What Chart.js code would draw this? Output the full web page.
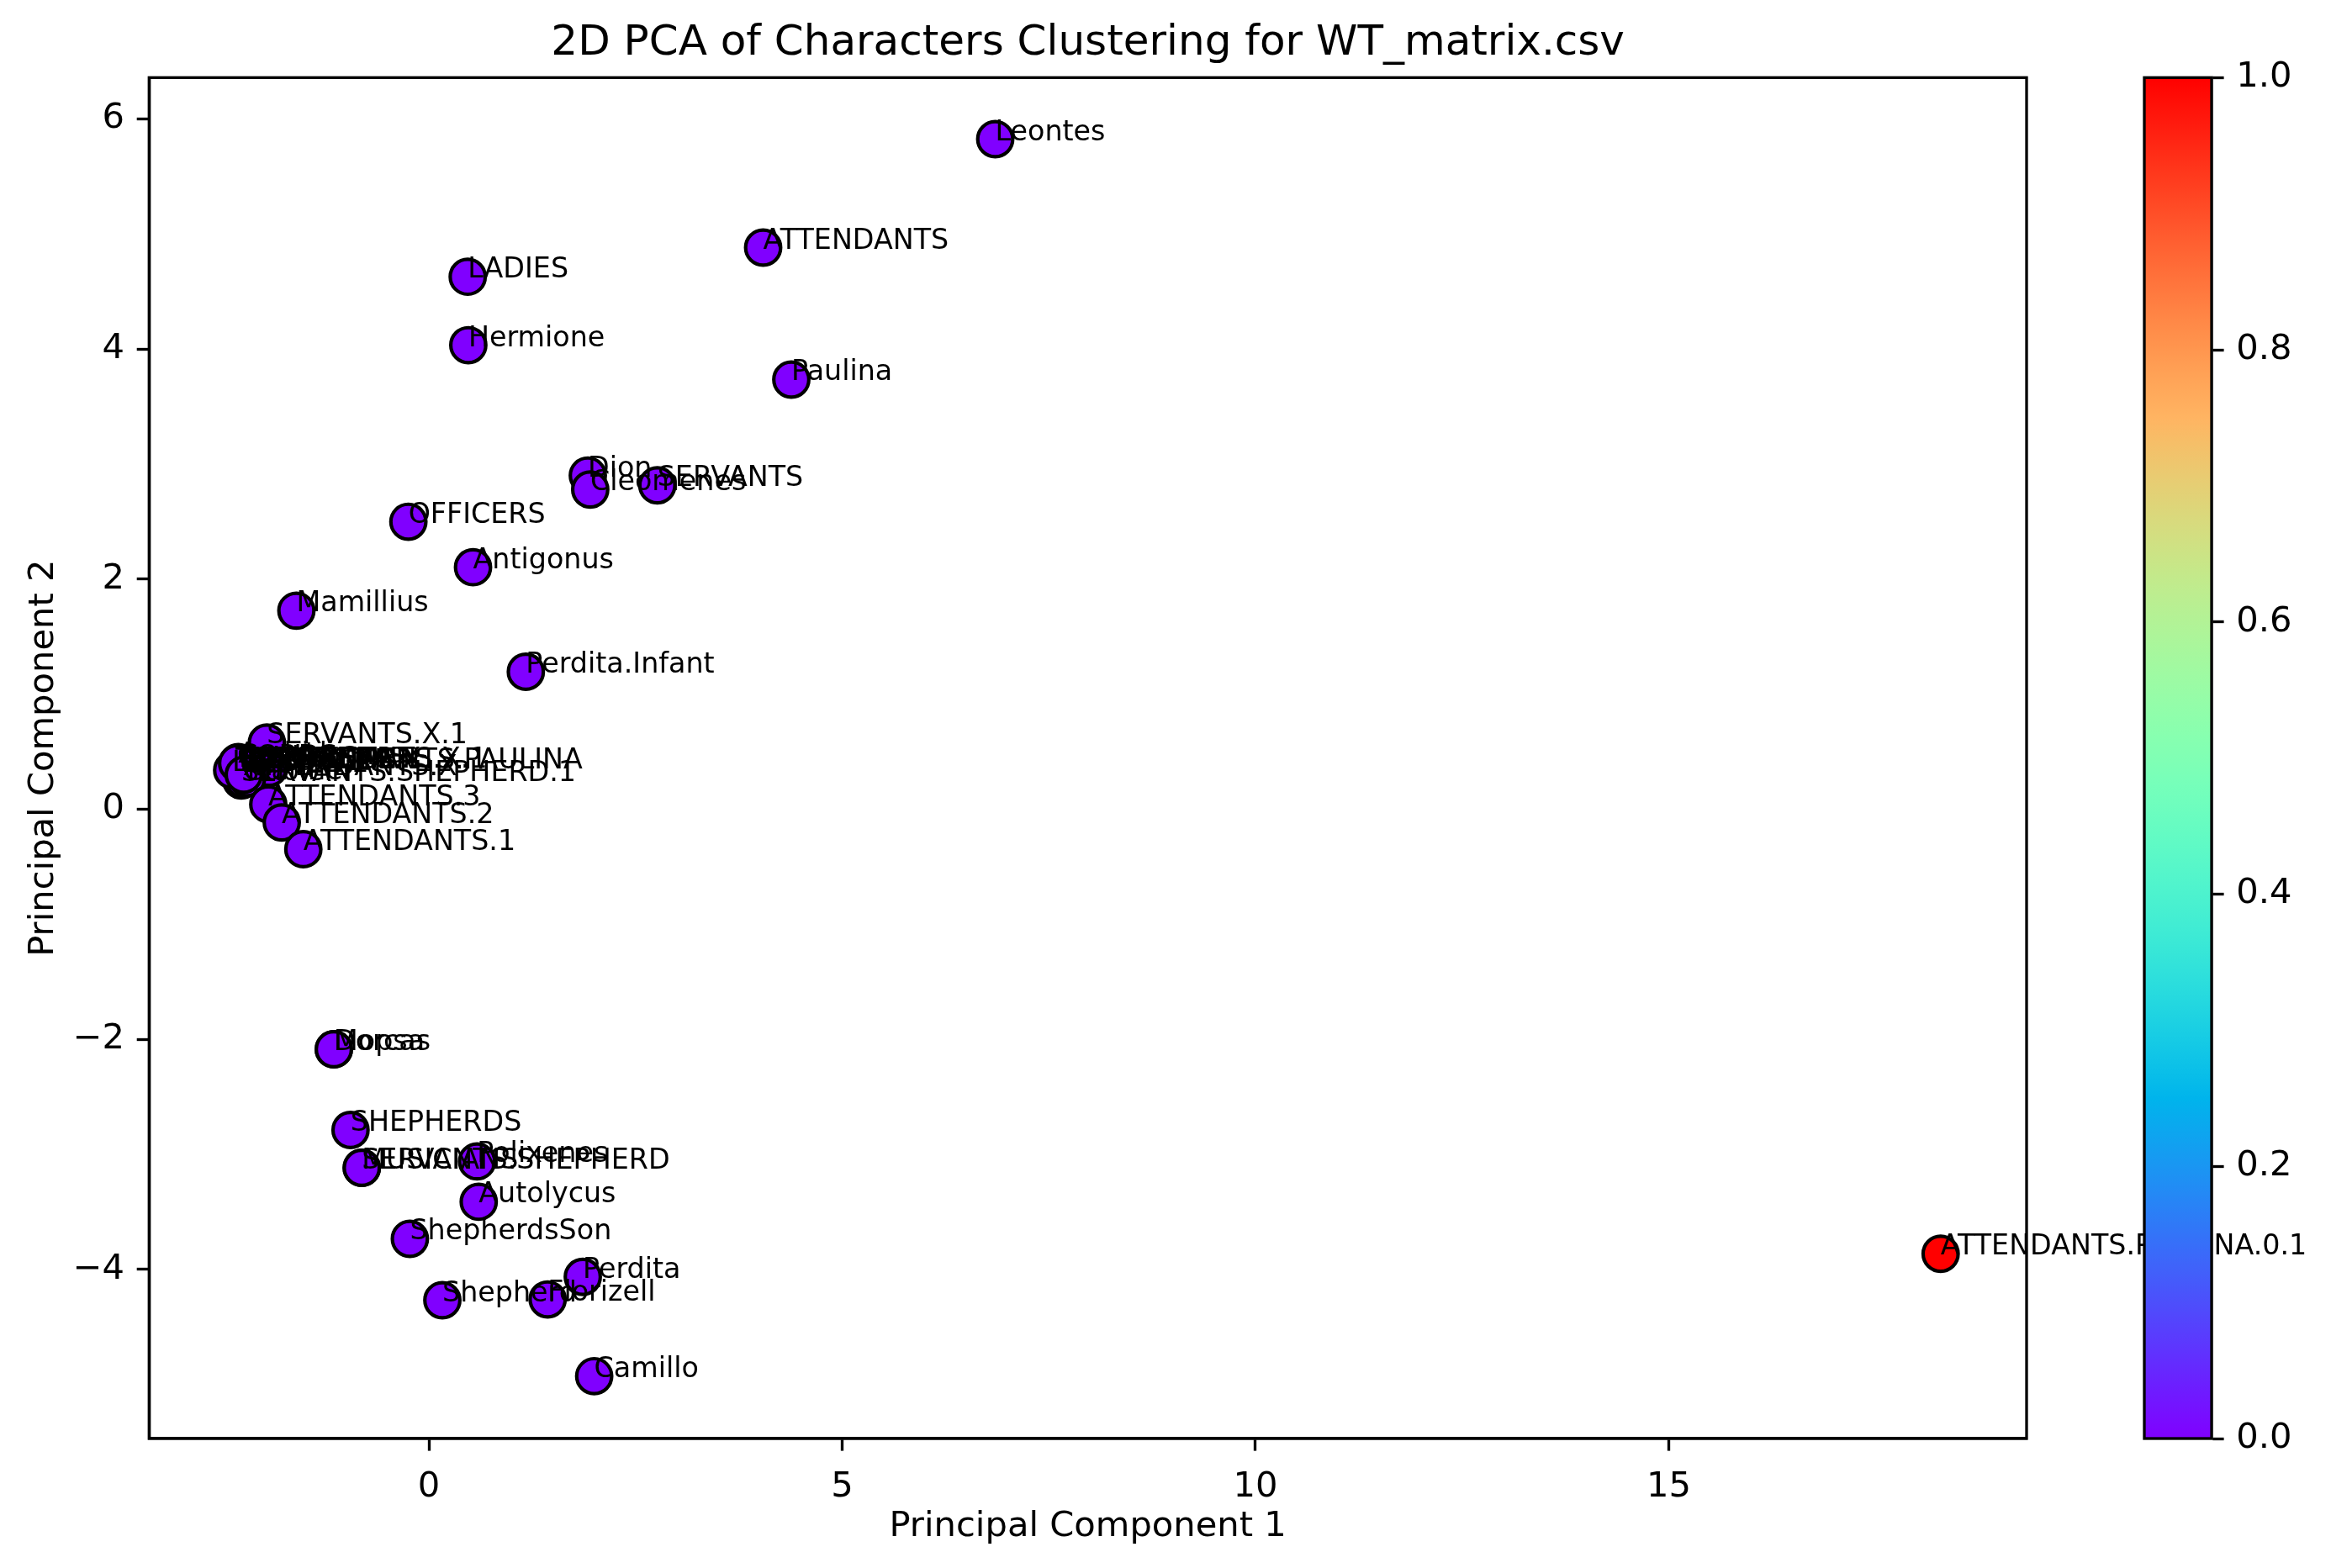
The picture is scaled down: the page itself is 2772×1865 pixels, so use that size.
<!DOCTYPE html>
<html lang="en">
<head>
  <meta charset="UTF-8">
  <title>2D PCA of Characters Clustering for WT_matrix.csv</title>
  <script src="https://cdn.jsdelivr.net/npm/chart.js"></script>
  <style>
    html, body { margin: 0; padding: 0; background: #fff; }
    .wrap { position: relative; width: 2772px; height: 1865px; }
    canvas { position: absolute; left: 0; top: 0; }
  </style>
</head>
<body>
<div class="wrap">
  <canvas id="pca" width="2772" height="1865"></canvas>
  <canvas id="cbar" width="2772" height="1865"></canvas>
</div>

<script>
const names = [
  'Leontes', 'ATTENDANTS', 'LADIES', 'Hermione', 'Paulina', 'Dion', 'Cleomenes', 'SERVANTS',
  'OFFICERS', 'Antigonus', 'Mamillius', 'Perdita.Infant',
  'SERVANTS.X.1', 'ATTENDANTS.PAULINA', 'ATTENDANTS.X.1', 'SERVANTS.SHEPHERD.1', 'Archidamus', 'Emilia',
  'Time', 'Gaoler', 'Mariner', 'LORDS', 'GUARDS', 'LORDS.1', 'GENTLEMEN', 'SERVANTS.X', 'LADIES.1', 'Lord',
  'Gentleman', 'ATTENDANTS.X',
  'ATTENDANTS.3', 'ATTENDANTS.2', 'ATTENDANTS.1',
  'Dorcas', 'Mopsa', 'SHEPHERDS', 'MUSICIANS', 'SERVANTS.SHEPHERD', 'Polixenes', 'Autolycus',
  'ShepherdsSon', 'Perdita', 'Shepherd', 'Florizell', 'Camillo', 'ATTENDANTS.PAULINA.0.1'
];
const pc1 = [
  6.852, 4.044, 0.47, 0.477, 4.385, 1.923, 1.952, 2.764,
  -0.248, 0.534, -1.603, 1.173,
  -1.96, -1.93, -2.2, -2.27, -2.306, -2.3,
  -2.34, -2.245, -2.2, -2.26, -2.31, -2.29, -2.25, -2.2, -2.27, -2.38,
  -2.32, -2.24,
  -1.943, -1.78, -1.519,
  -1.15, -1.15, -0.948, -0.812, -0.812, 0.583, 0.603,
  -0.23, 1.862, 0.163, 1.437, 2.0, 18.29
];
const pc2 = [
  5.825, 4.882, 4.629, 4.034, 3.735, 2.901, 2.779, 2.816,
  2.499, 2.104, 1.726, 1.195,
  0.58, 0.36, 0.37, 0.25, 0.41, 0.38,
  0.36, 0.26, 0.27, 0.39, 0.38, 0.35, 0.36, 0.37, 0.33, 0.34,
  0.4, 0.3,
  0.043, -0.115, -0.347,
  -2.086, -2.086, -2.788, -3.117, -3.117, -3.061, -3.412,
  -3.734, -4.065, -4.268, -4.261, -4.928, -3.864
];
const cluster = [
  0, 0, 0, 0, 0, 0, 0, 0,
  0, 0, 0, 0,
  0, 0, 0, 0, 0, 0,
  0, 0, 0, 0, 0, 0, 0, 0, 0, 0,
  0, 0,
  0, 0, 0,
  0, 0, 0, 0, 0, 0, 0,
  0, 0, 0, 0, 0, 1
];
const cbarTicks = [0, 0.2, 0.4, 0.6, 0.8, 1];

const FONT = '"DejaVu Sans", sans-serif';
const LW = 3.33;

// matplotlib rainbow colormap
function rainbow(t) {
  const r = Math.min(1, Math.abs(2 * t - 0.5));
  const g = Math.sin(Math.PI * t);
  const b = Math.cos(Math.PI * t / 2);
  return `rgb(${Math.round(r * 255)},${Math.round(g * 255)},${Math.round(b * 255)})`;
}

const minus = v => String(v).replace('-', '\u2212');

// box round the axes and the name next to each point
const annotate = {
  id: 'annotate',
  afterDatasetsDraw(chart) {
    const { ctx, chartArea: a, scales } = chart;
    ctx.save();
    ctx.strokeStyle = '#000';
    ctx.lineWidth = LW;
    ctx.strokeRect(a.left, a.top, a.right - a.left, a.bottom - a.top);
    ctx.fillStyle = '#000';
    ctx.font = '33.33px ' + FONT;
    ctx.textAlign = 'left';
    ctx.textBaseline = 'alphabetic';
    names.forEach((n, i) => {
      ctx.fillText(n, scales.x.getPixelForValue(pc1[i]), scales.y.getPixelForValue(pc2[i]) + 1);
    });
    ctx.restore();
  }
};

new Chart(document.getElementById('pca'), {
  type: 'scatter',
  data: {
    datasets: [{
      data: pc1.map((x, i) => ({ x, y: pc2[i] })),
      pointRadius: 20.83,
      pointHoverRadius: 20.83,
      pointBorderWidth: 4.17,
      pointBorderColor: '#000',
      pointBackgroundColor: cluster.map(rainbow)
    }]
  },
  options: {
    responsive: false,
    animation: false,
    devicePixelRatio: 1,
    layout: { padding: { right: 362, top: 0, left: 0, bottom: 0 } },
    plugins: {
      legend: { display: false },
      tooltip: { enabled: false },
      title: {
        display: true,
        fullSize: false,
        text: '2D PCA of Characters Clustering for WT_matrix.csv',
        color: '#000',
        font: { family: FONT, size: 50, weight: 'normal' },
        padding: { top: 22, bottom: 10.3 }
      }
    },
    scales: {
      x: {
        type: 'linear',
        min: -3.385,
        max: 19.33,
        afterFit: s => { s.height = 154; },
        grid: { drawOnChartArea: false, tickLength: 14.6, tickWidth: LW, tickColor: '#000' },
        border: { display: true, color: '#000', width: LW },
        ticks: {
          stepSize: 5, includeBounds: false, padding: 19, color: '#000', maxRotation: 0,
          font: { family: FONT, size: 41.67 }, callback: minus
        },
        title: {
          display: true, text: 'Principal Component 1', color: '#000',
          font: { family: FONT, size: 41.67 }, padding: { top: 0, bottom: 24 }
        }
      },
      y: {
        type: 'linear',
        min: -5.47,
        max: 6.36,
        afterFit: s => { s.width = 177.3; },
        grid: { drawOnChartArea: false, tickLength: 14.6, tickWidth: LW, tickColor: '#000' },
        border: { display: true, color: '#000', width: LW },
        ticks: {
          stepSize: 2, includeBounds: false, padding: 14.6, color: '#000',
          font: { family: FONT, size: 41.67 }, callback: minus
        },
        title: {
          display: true, text: 'Principal Component 2', color: '#000',
          font: { family: FONT, size: 41.67 }, padding: { top: 27, bottom: 0 }
        }
      }
    }
  },
  plugins: [annotate]
});

// colorbar
const cbarBox = {
  id: 'cbarBox',
  afterDatasetsDraw(chart) {
    const { ctx, chartArea: a } = chart;
    ctx.save();
    ctx.strokeStyle = '#000';
    ctx.lineWidth = LW;
    ctx.strokeRect(a.left, a.top, a.right - a.left, a.bottom - a.top);
    ctx.restore();
  }
};

new Chart(document.getElementById('cbar'), {
  type: 'bar',
  data: {
    labels: [''],
    datasets: [{
      data: [[cbarTicks[0], cbarTicks[cbarTicks.length - 1]]],
      barPercentage: 1,
      categoryPercentage: 1,
      backgroundColor(c) {
        const a = c.chart.chartArea;
        if (!a) return '#fff';
        const g = c.chart.ctx.createLinearGradient(0, a.bottom, 0, a.top);
        for (let i = 0; i <= 64; i++) g.addColorStop(i / 64, rainbow(i / 64));
        return g;
      }
    }]
  },
  options: {
    responsive: false,
    animation: false,
    devicePixelRatio: 1,
    layout: { padding: { left: 2550, top: 92.3, bottom: 154, right: 0 } },
    plugins: { legend: { display: false }, tooltip: { enabled: false } },
    scales: {
      x: { display: false },
      y: {
        position: 'right',
        min: 0,
        max: 1,
        afterFit: s => { s.width = 142; },
        grid: { drawOnChartArea: false, tickLength: 14.6, tickWidth: LW, tickColor: '#000' },
        border: { display: true, color: '#000', width: LW },
        ticks: {
          stepSize: 0.2, padding: 14.6, color: '#000',
          font: { family: FONT, size: 41.67 },
          callback: v => Number(v).toFixed(1)
        }
      }
    }
  },
  plugins: [cbarBox]
});
</script>
</body>
</html>
